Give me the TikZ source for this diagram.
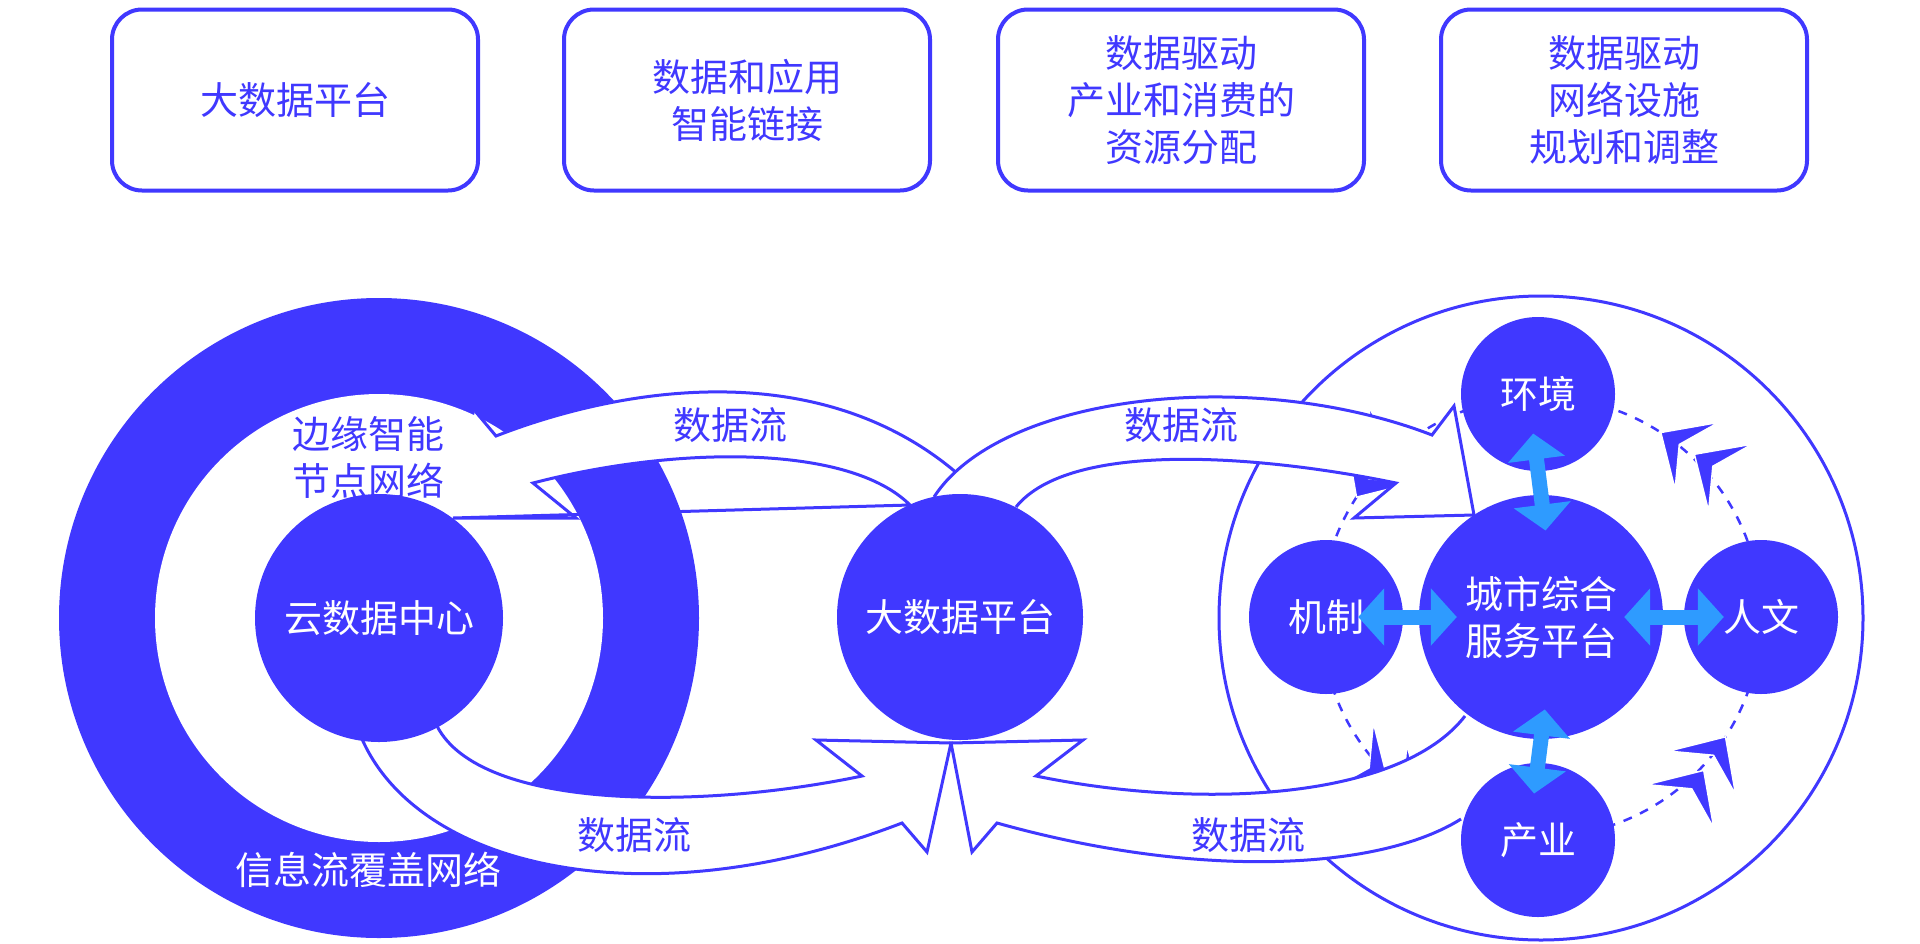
\documentclass[tikz,border=0pt]{standalone}
\usepackage{fontspec}
\setmainfont{Noto Sans CJK SC}
\usetikzlibrary{arrows.meta}
\definecolor{db}{HTML}{4038FF}
\definecolor{lb}{HTML}{2E9BFF}
\begin{document}
\begin{tikzpicture}[x=1pt,y=-1pt,
  txt/.style={font=\fontsize{38pt}{47pt}\selectfont, align=center},
  topbox/.style={draw=db, line width=4pt, rounded corners=30pt, minimum width=366pt, minimum height=181pt, txt, text=db, inner sep=0pt},
  bc/.style={fill=db, draw=none, circle, inner sep=0pt, txt, text=white},
  band/.style={fill=white},
  bandline/.style={draw=db, line width=3pt, line join=miter},
  lbarrow/.style={lb, line width=15pt, {Triangle[length=26pt,width=56pt]}-{Triangle[length=26pt,width=56pt]}},
  chevf/.style={fill=db, draw=white, line width=1.5pt, line join=miter}]
\useasboundingbox (0,0) rectangle (1920,943);
\fill[white] (0,0) rectangle (1920,943);
% top boxes
\node[topbox] (b1) at (295,100) {大数据平台};
\node[topbox] (b2) at (747,100) {数据和应用\\智能链接};
\node[topbox] (b3) at (1181,100) {数据驱动\\产业和消费的\\资源分配};
\node[topbox] (b4) at (1624,100) {数据驱动\\网络设施\\规划和调整};
% left ring
\fill[db] (379,618) circle[radius=320];
\fill[white] (379,618) circle[radius=224];
% right outline circle and dashed circle
\draw[db, line width=3pt] (1541,618) circle[radius=322];
\draw[db, line width=2.5pt, dash pattern=on 9pt off 9pt] (1541,617) circle[radius=220];
% chevrons on dashed circle
\foreach \ang in {57,-33,-123,147}{
  \begin{scope}[shift={(1541,617)}, rotate=\ang]
    \filldraw[chevf] (220,40) -- (260,83) -- (220,62) -- (180,83) -- cycle;
    \filldraw[chevf] (220,0) -- (260,43) -- (220,22) -- (180,43) -- cycle;
  \end{scope}
}
% top-left band
\fill[band] (475,411) -- (496,436) .. controls (640,380) and (850,355) .. (985,500)
  -- (910,505) .. controls (850,445) and (680,445) .. (533,483) -- (576,518) -- (453,518) -- cycle;
\draw[bandline] (475,411) -- (496,436) .. controls (640,380) and (850,355) .. (985,500)
  (910,505) .. controls (850,445) and (680,445) .. (533,483) -- (576,518) -- (453,518) -- cycle;
% top-right band
\fill[band] (934,497) .. controls (1000,395) and (1250,365) .. (1432,435) -- (1454,406) -- (1474,515) -- (1354,518) -- (1396,483)
  .. controls (1260,455) and (1070,440) .. (1016,507) -- cycle;
\draw[bandline] (934,497) .. controls (1000,395) and (1250,365) .. (1432,435) -- (1454,406) -- (1474,515) -- (1354,518) -- (1396,483)
  .. controls (1260,455) and (1070,440) .. (1016,507);
% bottom-left band
\fill[band] (362,739) .. controls (420,870) and (650,920) .. (902,823) -- (927,852) -- (951,743) -- (816,740) -- (862,776)
  .. controls (700,810) and (480,810) .. (437,726) -- cycle;
\draw[bandline] (362,739) .. controls (420,870) and (650,920) .. (902,823) -- (927,852) -- (951,743) -- (816,740) -- (862,776)
  .. controls (700,810) and (480,810) .. (437,726);
% bottom-right band
\fill[band] (1461,819) .. controls (1380,870) and (1200,880) .. (997,823) -- (972,852) -- (951,743) -- (1083,740) -- (1036,776)
  .. controls (1200,810) and (1400,800) .. (1465,716) -- cycle;
\draw[bandline] (1461,819) .. controls (1380,870) and (1200,880) .. (997,823) -- (972,852) -- (951,743) -- (1083,740) -- (1036,776)
  .. controls (1200,810) and (1400,800) .. (1465,716);
% circles
\node[bc, minimum size=248pt] (yun) at (379,618) {云数据中心};
\node[bc, minimum size=246pt] (dsj) at (960,617) {大数据平台};
\node[bc, minimum size=244pt] (cs) at (1541,617) {城市综合\\服务平台};
\node[bc, minimum size=154pt] (hj) at (1538,394) {环境};
\node[bc, minimum size=154pt] (cy) at (1538,840) {产业};
\node[bc, minimum size=154pt] (jz) at (1326,617) {机制};
\node[bc, minimum size=154pt] (rw) at (1761,617) {人文};
% light blue double arrows
\draw[lbarrow, shorten <=-38pt, shorten >=-36pt] (hj.south) -- (cs.north);
\draw[lbarrow, shorten <=-30pt, shorten >=-31pt] (cs.south) -- (cy.north);
\draw[lbarrow, shorten <=-45pt, shorten >=-38pt] (jz.east) -- (cs.west);
\draw[lbarrow, shorten <=-39pt, shorten >=-40pt] (cs.east) -- (rw.west);
% labels
\node[txt, text=db] (l1) at (730,425) {数据流};
\node[txt, text=db] (l2) at (1181,425) {数据流};
\node[txt, text=db] (l3) at (634,835) {数据流};
\node[txt, text=db] (l4) at (1248,835) {数据流};
\node[txt, text=db, align=right, anchor=east] (l5) at (448,457) {边缘智能\\节点网络};
\node[txt, text=white] (l6) at (368,870) {信息流覆盖网络};
\end{tikzpicture}
\end{document}
